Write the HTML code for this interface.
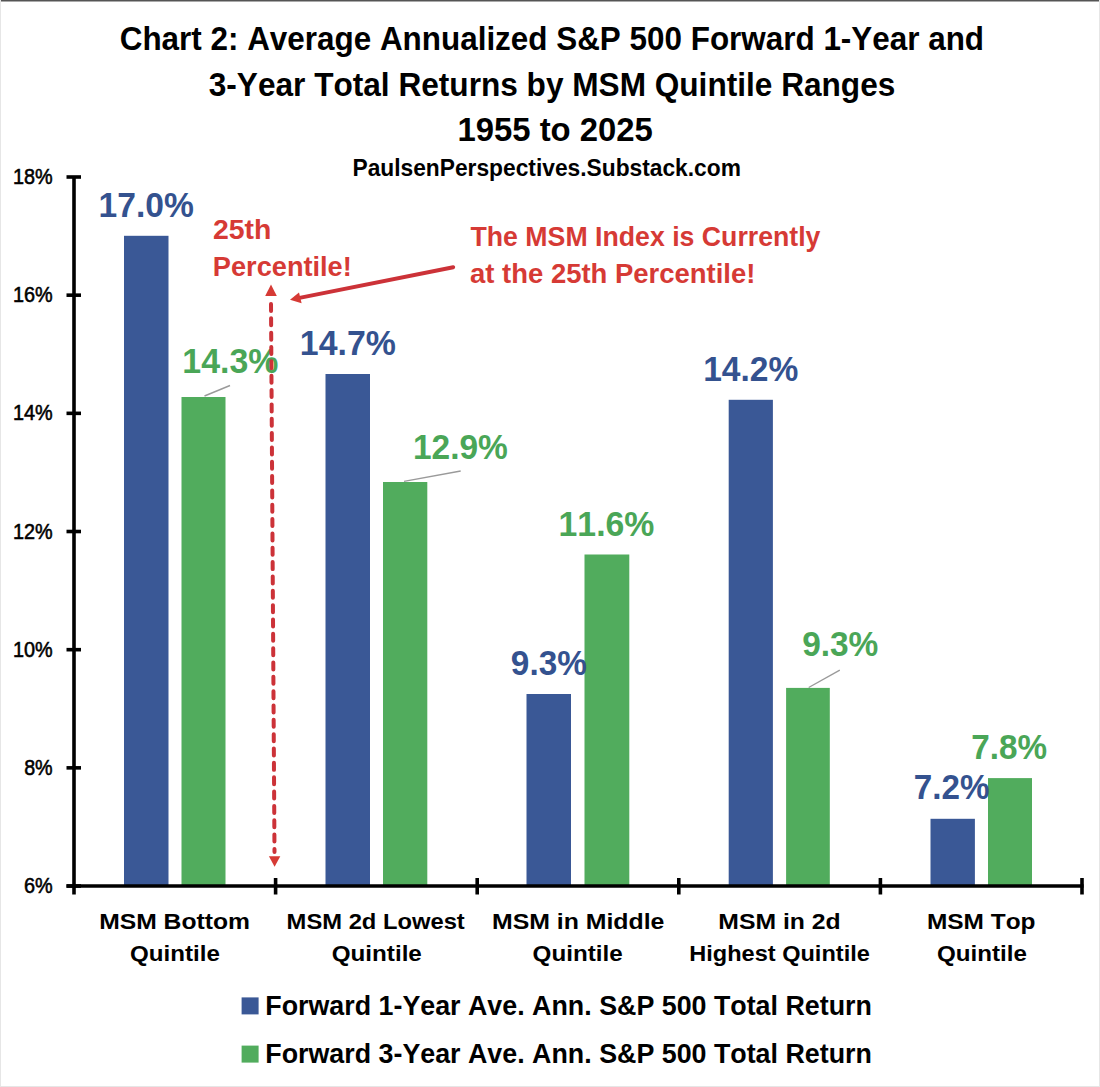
<!DOCTYPE html>
<html><head><meta charset="utf-8"><title>Chart 2</title>
<style>
html,body{margin:0;padding:0;background:#fff;width:1100px;height:1087px;overflow:hidden;}
svg{display:block;font-family:"Liberation Sans", sans-serif;font-kerning:none;}
</style></head><body>
<svg width="1100" height="1087" viewBox="0 0 1100 1087">
<rect width="1100" height="1087" fill="#fff"/>
<rect x="0" y="0" width="1100" height="1.5" fill="#555"/>
<rect x="0" y="0" width="1" height="1087" fill="#e6e6e6"/>
<rect x="1099" y="0" width="1" height="1087" fill="#e6e6e6"/>
<rect x="0" y="1086" width="1100" height="1" fill="#e6e6e6"/>
<rect x="124.00" y="235.80" width="44.50" height="650.20" fill="#3A5896"/>
<rect x="181.50" y="397.00" width="44.00" height="489.00" fill="#51AC5D"/>
<rect x="325.50" y="374.00" width="44.50" height="512.00" fill="#3A5896"/>
<rect x="383.00" y="482.00" width="44.30" height="404.00" fill="#51AC5D"/>
<rect x="526.50" y="694.00" width="44.50" height="192.00" fill="#3A5896"/>
<rect x="584.50" y="554.50" width="44.80" height="331.50" fill="#51AC5D"/>
<rect x="728.70" y="399.80" width="44.20" height="486.20" fill="#3A5896"/>
<rect x="786.10" y="687.90" width="43.70" height="198.10" fill="#51AC5D"/>
<rect x="930.50" y="818.80" width="44.40" height="67.20" fill="#3A5896"/>
<rect x="988.00" y="778.10" width="44.00" height="107.90" fill="#51AC5D"/>
<line x1="204.5" y1="396" x2="230" y2="385.5" stroke="#9A9A9A" stroke-width="1.4"/>
<line x1="404" y1="481.4" x2="460.7" y2="471" stroke="#9A9A9A" stroke-width="1.4"/>
<line x1="808.7" y1="687.5" x2="839.8" y2="670.1" stroke="#9A9A9A" stroke-width="1.4"/>
<line x1="74" y1="177.00" x2="74" y2="894.5" stroke="#000" stroke-width="3.6"/>
<line x1="66.5" y1="177.00" x2="81" y2="177.00" stroke="#000" stroke-width="3.6"/>
<line x1="66.5" y1="295.17" x2="81" y2="295.17" stroke="#000" stroke-width="3.6"/>
<line x1="66.5" y1="413.34" x2="81" y2="413.34" stroke="#000" stroke-width="3.6"/>
<line x1="66.5" y1="531.51" x2="81" y2="531.51" stroke="#000" stroke-width="3.6"/>
<line x1="66.5" y1="649.68" x2="81" y2="649.68" stroke="#000" stroke-width="3.6"/>
<line x1="66.5" y1="767.85" x2="81" y2="767.85" stroke="#000" stroke-width="3.6"/>
<line x1="66.5" y1="886.02" x2="81" y2="886.02" stroke="#000" stroke-width="3.6"/>
<line x1="66.5" y1="886" x2="1083.6" y2="886" stroke="#000" stroke-width="3.6"/>
<line x1="275.60" y1="878" x2="275.60" y2="894.5" stroke="#000" stroke-width="3.6"/>
<line x1="477.20" y1="878" x2="477.20" y2="894.5" stroke="#000" stroke-width="3.6"/>
<line x1="678.80" y1="878" x2="678.80" y2="894.5" stroke="#000" stroke-width="3.6"/>
<line x1="880.40" y1="878" x2="880.40" y2="894.5" stroke="#000" stroke-width="3.6"/>
<line x1="1082.00" y1="878" x2="1082.00" y2="894.5" stroke="#000" stroke-width="3.6"/>
<text x="119.71" y="50.00" font-size="33.5" font-weight="bold" fill="#000000" textLength="864.36" lengthAdjust="spacingAndGlyphs">Chart 2: Average Annualized S&amp;P 500 Forward 1-Year and</text>
<text x="208.77" y="95.50" font-size="33.5" font-weight="bold" fill="#000000" textLength="686.52" lengthAdjust="spacingAndGlyphs">3-Year Total Returns by MSM Quintile Ranges</text>
<text x="457.43" y="141.00" font-size="33.5" font-weight="bold" fill="#000000" textLength="195.48" lengthAdjust="spacingAndGlyphs">1955 to 2025</text>
<text x="352.48" y="176.20" font-size="23.5" font-weight="bold" fill="#000000" textLength="388.43" lengthAdjust="spacingAndGlyphs">PaulsenPerspectives.Substack.com</text>
<text x="12.99" y="184.00" font-size="21.5" font-weight="normal" fill="#000000" stroke="#000000" stroke-width="0.55" textLength="39.72" lengthAdjust="spacingAndGlyphs">18%</text>
<text x="12.99" y="302.17" font-size="21.5" font-weight="normal" fill="#000000" stroke="#000000" stroke-width="0.55" textLength="39.72" lengthAdjust="spacingAndGlyphs">16%</text>
<text x="12.99" y="420.34" font-size="21.5" font-weight="normal" fill="#000000" stroke="#000000" stroke-width="0.55" textLength="39.72" lengthAdjust="spacingAndGlyphs">14%</text>
<text x="12.99" y="538.51" font-size="21.5" font-weight="normal" fill="#000000" stroke="#000000" stroke-width="0.55" textLength="39.72" lengthAdjust="spacingAndGlyphs">12%</text>
<text x="12.99" y="656.68" font-size="21.5" font-weight="normal" fill="#000000" stroke="#000000" stroke-width="0.55" textLength="39.72" lengthAdjust="spacingAndGlyphs">10%</text>
<text x="24.14" y="774.85" font-size="21.5" font-weight="normal" fill="#000000" stroke="#000000" stroke-width="0.55" textLength="28.56" lengthAdjust="spacingAndGlyphs">8%</text>
<text x="23.99" y="893.02" font-size="21.5" font-weight="normal" fill="#000000" stroke="#000000" stroke-width="0.55" textLength="28.72" lengthAdjust="spacingAndGlyphs">6%</text>
<text x="98.58" y="217.00" font-size="35.5" font-weight="bold" fill="#34528F" textLength="95.30" lengthAdjust="spacingAndGlyphs">17.0%</text>
<text x="182.37" y="372.50" font-size="35.5" font-weight="bold" fill="#4AA657" textLength="96.03" lengthAdjust="spacingAndGlyphs">14.3%</text>
<text x="299.87" y="355.00" font-size="35.5" font-weight="bold" fill="#34528F" textLength="96.03" lengthAdjust="spacingAndGlyphs">14.7%</text>
<text x="412.89" y="459.30" font-size="35.5" font-weight="bold" fill="#4AA657" textLength="94.99" lengthAdjust="spacingAndGlyphs">12.9%</text>
<text x="510.84" y="674.50" font-size="35.5" font-weight="bold" fill="#34528F" textLength="76.04" lengthAdjust="spacingAndGlyphs">9.3%</text>
<text x="558.57" y="535.80" font-size="35.5" font-weight="bold" fill="#4AA657" textLength="95.82" lengthAdjust="spacingAndGlyphs">11.6%</text>
<text x="703.19" y="380.90" font-size="35.5" font-weight="bold" fill="#34528F" textLength="95.20" lengthAdjust="spacingAndGlyphs">14.2%</text>
<text x="802.14" y="656.20" font-size="35.5" font-weight="bold" fill="#4AA657" textLength="76.24" lengthAdjust="spacingAndGlyphs">9.3%</text>
<text x="913.87" y="799.20" font-size="35.5" font-weight="bold" fill="#34528F" textLength="75.70" lengthAdjust="spacingAndGlyphs">7.2%</text>
<text x="971.27" y="758.50" font-size="35.5" font-weight="bold" fill="#4AA657" textLength="75.81" lengthAdjust="spacingAndGlyphs">7.8%</text>
<text x="212.91" y="239.30" font-size="27" font-weight="bold" fill="#D63A35" textLength="58.45" lengthAdjust="spacingAndGlyphs">25th</text>
<text x="212.88" y="276.10" font-size="27" font-weight="bold" fill="#D63A35" textLength="138.90" lengthAdjust="spacingAndGlyphs">Percentile!</text>
<text x="470.50" y="246.20" font-size="27" font-weight="bold" fill="#D63A35" textLength="349.94" lengthAdjust="spacingAndGlyphs">The MSM Index is Currently</text>
<text x="470.00" y="283.10" font-size="27" font-weight="bold" fill="#D63A35" textLength="285.42" lengthAdjust="spacingAndGlyphs">at the 25th Percentile!</text>
<text x="99.15" y="929.00" font-size="22.5" font-weight="bold" fill="#000000" textLength="150.78" lengthAdjust="spacingAndGlyphs">MSM Bottom</text>
<text x="130.01" y="960.70" font-size="22.5" font-weight="bold" fill="#000000" textLength="89.81" lengthAdjust="spacingAndGlyphs">Quintile</text>
<text x="286.61" y="928.80" font-size="22.5" font-weight="bold" fill="#000000" textLength="178.18" lengthAdjust="spacingAndGlyphs">MSM 2d Lowest</text>
<text x="331.71" y="960.60" font-size="22.5" font-weight="bold" fill="#000000" textLength="90.12" lengthAdjust="spacingAndGlyphs">Quintile</text>
<text x="491.94" y="928.80" font-size="22.5" font-weight="bold" fill="#000000" textLength="172.51" lengthAdjust="spacingAndGlyphs">MSM in Middle</text>
<text x="532.61" y="960.60" font-size="22.5" font-weight="bold" fill="#000000" textLength="90.02" lengthAdjust="spacingAndGlyphs">Quintile</text>
<text x="718.35" y="928.80" font-size="22.5" font-weight="bold" fill="#000000" textLength="122.28" lengthAdjust="spacingAndGlyphs">MSM in 2d</text>
<text x="689.33" y="960.60" font-size="22.5" font-weight="bold" fill="#000000" textLength="180.48" lengthAdjust="spacingAndGlyphs">Highest Quintile</text>
<text x="926.97" y="928.80" font-size="22.5" font-weight="bold" fill="#000000" textLength="108.54" lengthAdjust="spacingAndGlyphs">MSM Top</text>
<text x="936.91" y="960.60" font-size="22.5" font-weight="bold" fill="#000000" textLength="89.92" lengthAdjust="spacingAndGlyphs">Quintile</text>
<text x="265.31" y="1014.80" font-size="27" font-weight="bold" fill="#000000" textLength="606.56" lengthAdjust="spacingAndGlyphs">Forward 1-Year Ave. Ann. S&amp;P 500 Total Return</text>
<text x="265.31" y="1063.20" font-size="27" font-weight="bold" fill="#000000" textLength="606.56" lengthAdjust="spacingAndGlyphs">Forward 3-Year Ave. Ann. S&amp;P 500 Total Return</text>
<line x1="271" y1="304" x2="274.5" y2="852" stroke="#CC3238" stroke-width="4" stroke-linecap="round" stroke-dasharray="7 7.34"/>
<polygon points="271,284.5 265.2,296 276.8,296" fill="#D63A35"/>
<polygon points="274.6,866.8 268.9,856.2 280.3,856.2" fill="#D63A35"/>
<line x1="453.25" y1="267.25" x2="297" y2="298.3" stroke="#CC3238" stroke-width="3.9" stroke-linecap="round"/>
<polygon points="290,299.8 299,292.4 301.6,303.2" fill="#D63A35"/>
<rect x="241.6" y="997.4" width="17" height="17" fill="#3A5896"/>
<rect x="241.6" y="1045.6" width="17" height="17" fill="#51AC5D"/>
</svg>
</body></html>
